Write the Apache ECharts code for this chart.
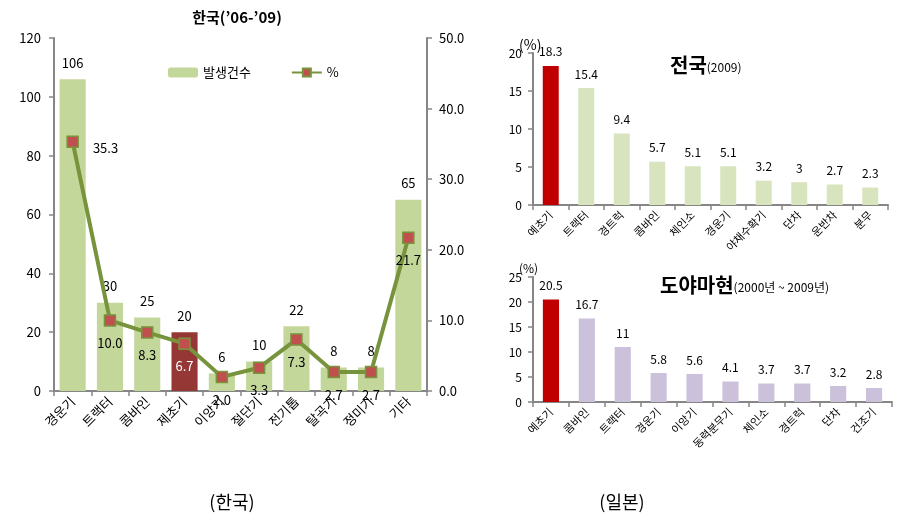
<!DOCTYPE html>
<html><head><meta charset="utf-8">
<script src="https://cdn.jsdelivr.net/npm/echarts@6/dist/echarts.min.js"></script>
<style>html,body{margin:0;padding:0;background:#fff}#c{width:920px;height:529px}</style>
</head><body><div id="c"></div>
<script>
const krCats = ['경운기','트랙터','콤바인','제초기','이앙기','절단기','전기톱','탈곡기','정미기','기타'];
const krCounts = [106,30,25,20,6,10,22,8,8,65];
const krPct = [35.3,10.0,8.3,6.7,2.0,3.3,7.3,2.7,2.7,21.7];
const krLeftTicks = [0,20,40,60,80,100,120];
const nationCats = ['예초기','트랙터','경트럭','콤바인','체인소','경운기','야채수확기','단차','운반차','분무'];
const nationVals = [18.3,15.4,9.4,5.7,5.1,5.1,3.2,3,2.7,2.3];
const toyamaCats = ['예초기','콤바인','트랙터','경운기','이앙기','동력분무기','체인소','경트럭','단차','건조기'];
const toyamaVals = [20.5,16.7,11,5.8,5.6,4.1,3.7,3.7,3.2,2.8];

const FONT = '"Noto Sans CJK KR", "DejaVu Sans", sans-serif';
const axisGray = '#868686';
const chart = echarts.init(document.getElementById('c'));

const catAxisBase = {
  type:'category', boundaryGap:true,
  axisLine:{lineStyle:{color:axisGray,width:2}},
  axisTick:{show:true,length:5,lineStyle:{color:axisGray,width:1.5}},
  axisLabel:{rotate:45,color:'#000',fontFamily:FONT,margin:8}
};
const valAxisBase = {
  type:'value', splitLine:{show:false},
  axisLine:{show:true,lineStyle:{color:axisGray,width:2}},
  axisTick:{show:true,length:5,lineStyle:{color:axisGray,width:1.5}},
  axisLabel:{color:'#000',fontFamily:FONT}
};

chart.setOption({
  backgroundColor:'#fff',
  textStyle:{fontFamily:FONT},
  animation:false,
  title:[
    {text:"한국(’06-’09)", left:232, top:5, textAlign:'center', textStyle:{fontSize:15,fontWeight:'bold',fontFamily:FONT,color:'#000'}},
    {text:'{b|전국}{s|(2009)}', left:665, top:50, textStyle:{rich:{b:{fontSize:20,fontWeight:'bold',fontFamily:FONT,color:'#000'},s:{fontSize:12,fontWeight:'normal',fontFamily:FONT,color:'#000',padding:[4,0,0,0]}}}},
    {text:'{b|도야마현}{s|(2000년 ~ 2009년)}', left:655, top:270, textStyle:{rich:{b:{fontSize:20,fontWeight:'bold',fontFamily:FONT,color:'#000'},s:{fontSize:12,fontWeight:'normal',fontFamily:FONT,color:'#000',padding:[4,0,0,0]}}}},
    {text:'(%)', left:514, top:33, textStyle:{fontSize:14,fontWeight:'normal',fontFamily:FONT,color:'#000'}},
    {text:'(%)', left:514, top:257, textStyle:{fontSize:12,fontWeight:'normal',fontFamily:FONT,color:'#000'}},
    {text:'(한국)', left:227, top:488, textAlign:'center', textStyle:{fontSize:18,fontWeight:'normal',fontFamily:FONT,color:'#000'}},
    {text:'(일본)', left:617, top:488, textAlign:'center', textStyle:{fontSize:18,fontWeight:'normal',fontFamily:FONT,color:'#000'}}
  ],
  legend:{
    left:163, top:61, itemWidth:30, itemHeight:10, itemGap:40,
    textStyle:{fontSize:13,fontFamily:FONT,color:'#000'},
    data:['발생건수','%']
  },
  grid:[
    {left:54, right:493, top:38, bottom:138},
    {left:533, right:32, top:53, bottom:324},
    {left:533, right:28, top:277, bottom:127}
  ],
  xAxis:[
    Object.assign({}, catAxisBase, {gridIndex:0, data:krCats, axisLabel:Object.assign({}, catAxisBase.axisLabel, {fontSize:13, interval:0})}),
    Object.assign({}, catAxisBase, {gridIndex:1, data:nationCats, axisLabel:Object.assign({}, catAxisBase.axisLabel, {fontSize:11, interval:0})}),
    Object.assign({}, catAxisBase, {gridIndex:2, data:toyamaCats, axisLabel:Object.assign({}, catAxisBase.axisLabel, {fontSize:11, interval:0})})
  ],
  yAxis:[
    Object.assign({}, valAxisBase, {gridIndex:0, min:krLeftTicks[0], max:krLeftTicks[krLeftTicks.length-1], interval:20, axisLabel:{color:'#000',fontFamily:FONT,fontSize:13,margin:13}}),
    Object.assign({}, valAxisBase, {gridIndex:0, position:'right', min:0, max:50, interval:10, axisLabel:{color:'#000',fontFamily:FONT,fontSize:13,margin:12,formatter:v=>v.toFixed(1)}}),
    Object.assign({}, valAxisBase, {gridIndex:1, min:0, max:20, interval:5, axisLabel:{color:'#000',fontFamily:FONT,fontSize:12,margin:11}}),
    Object.assign({}, valAxisBase, {gridIndex:2, min:0, max:25, interval:5, axisLabel:{color:'#000',fontFamily:FONT,fontSize:12,margin:11}})
  ],
  series:[
    {
      name:'발생건수', type:'bar', xAxisIndex:0, yAxisIndex:0, barWidth:'70%',
      itemStyle:{color:'#c4d79b'},
      data:krCounts.map((v,i)=> i===3 ? {value:v,itemStyle:{color:'#953735'}} : v),
      label:{show:true,position:'top',distance:10,color:'#000',fontSize:13,fontFamily:FONT}
    },
    {
      name:'%', type:'line', xAxisIndex:0, yAxisIndex:1,
      symbol:'rect', symbolSize:11,
      lineStyle:{color:'#77933c',width:4},
      itemStyle:{color:'#c0504d',borderColor:'#77933c',borderWidth:1.5},
      data:krPct.map((v,i)=>{
        if(i===0) return {value:v,label:{position:'right',distance:14,offset:[0,6]}};
        if(i===3) return {value:v,label:{color:'#fff'}};
        return v;
      }),
      label:{show:true,position:'bottom',distance:10,color:'#000',fontSize:13,fontFamily:FONT,formatter:p=>Number(p.value).toFixed(1)},
      z:5
    },
    {
      type:'bar', xAxisIndex:1, yAxisIndex:2, barWidth:'45%',
      itemStyle:{color:'#d7e4bd'},
      data:nationVals.map((v,i)=> i===0 ? {value:v,itemStyle:{color:'#c00000'}} : v),
      label:{show:true,position:'top',distance:8,color:'#000',fontSize:12,fontFamily:FONT}
    },
    {
      type:'bar', xAxisIndex:2, yAxisIndex:3, barWidth:'45%',
      itemStyle:{color:'#ccc1da'},
      data:toyamaVals.map((v,i)=> i===0 ? {value:v,itemStyle:{color:'#c00000'}} : v),
      label:{show:true,position:'top',distance:8,color:'#000',fontSize:12,fontFamily:FONT}
    }
  ]
});
</script></body></html>
